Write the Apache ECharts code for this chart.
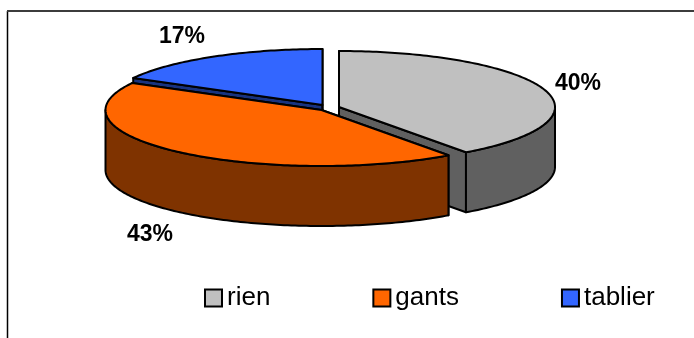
<!DOCTYPE html>
<html>
<head>
<meta charset="utf-8">
<style>html,body{margin:0;padding:0;background:#fff}#chart{width:694px;height:338px}</style>
<script src="https://cdn.jsdelivr.net/npm/echarts@6/dist/echarts.min.js"></script>
</head>
<body>
<div id="chart"></div>
<script>
// Share of answers per protective item
var categories = ['rien', 'gants', 'tablier'];
var values = [40, 43, 17];
var percentLabels = ['40%', '43%', '17%'];

var topColors = ['#c0c0c0', '#ff6600', '#3366ff'];
var wallColors = ['#606060', '#7f3300', '#19337f'];

// Pie geometry: ellipse radii, wall height, and each exploded slice's centre
var RX = 216, RY = 56, DEPTH = 60;
var centres = [[339, 107], [321.5, 110], [322.5, 105]];
var labelAnchors = [[578, 84], [150, 235], [182, 37]];
var stacking = [2, 3, 1];

var total = values.reduce(function (a, b) { return a + b; }, 0);

// Angle 0 points up; angles grow clockwise.
function rim(c, deg, drop) {
  var r = deg * Math.PI / 180;
  return [c[0] + RX * Math.sin(r), c[1] - RY * Math.cos(r) + (drop || 0)];
}
function arc(c, from, to, drop) {
  var pts = [], n = Math.max(2, Math.ceil(Math.abs(to - from)));
  for (var i = 0; i <= n; i++) pts.push(rim(c, from + (to - from) * i / n, drop));
  return pts;
}
function face(points, fill) {
  return {
    type: 'polygon',
    shape: { points: points },
    style: { fill: fill, stroke: '#000', lineWidth: 2, lineJoin: 'round' }
  };
}

function sliceRenderer(index) {
  var start = 0;
  for (var i = 0; i < index; i++) start += values[i] * 360 / total;
  var end = start + values[index] * 360 / total;
  var c = centres[index];
  var top = [c].concat(arc(c, start, end));
  var wall = wallColors[index];
  return function () {
    var children = [];
    // inner cut walls
    [start, end].forEach(function (a) {
      var e = rim(c, a);
      children.push(face([c, e, [e[0], e[1] + DEPTH], [c[0], c[1] + DEPTH]], wall));
    });
    // outer curved wall, only the part facing the viewer
    var a0 = Math.max(start, 90), a1 = Math.min(end, 270);
    if (a1 > a0) {
      children.push(face(arc(c, a0, a1).concat(arc(c, a1, a0, DEPTH)), wall));
    }
    children.push(face(top, topColors[index]));
    return { type: 'group', children: children };
  };
}

var series = categories.map(function (name, i) {
  return {
    type: 'custom',
    name: name,
    coordinateSystem: 'none',
    z: stacking[i],
    silent: true,
    animation: false,
    itemStyle: { color: topColors[i], borderColor: '#000', borderWidth: 2 },
    data: [values[i]],
    renderItem: sliceRenderer(i)
  };
});

var chart = echarts.init(document.getElementById('chart'), null, { renderer: 'canvas' });
chart.setOption({
  animation: false,
  backgroundColor: '#fff',
  legend: {
    data: categories,
    left: 199,
    top: 280,
    icon: 'rect',
    itemWidth: 17,
    itemHeight: 17,
    itemGap: 102,
    textStyle: { fontFamily: 'Liberation Sans', fontSize: 26, color: '#000' },
    selectedMode: false
  },
  graphic: [
    { type: 'polyline', silent: true, shape: { points: [[7.5, 338], [7.5, 11]] },
      style: { stroke: '#000', lineWidth: 1.5, fill: null } },
    { type: 'polyline', silent: true, shape: { points: [[7, 11], [694, 11]] },
      style: { stroke: '#3c3c3c', lineWidth: 2, fill: null } }
  ].concat(percentLabels.map(function (t, i) {
    return {
      type: 'text', silent: true, x: labelAnchors[i][0], y: labelAnchors[i][1], z: 10,
      style: { text: t, fontFamily: 'Liberation Sans', fontWeight: 'bold', fontSize: 23,
        fill: '#000', align: 'center', verticalAlign: 'middle' }
    };
  })),
  series: series
});
</script>
</body>
</html>
